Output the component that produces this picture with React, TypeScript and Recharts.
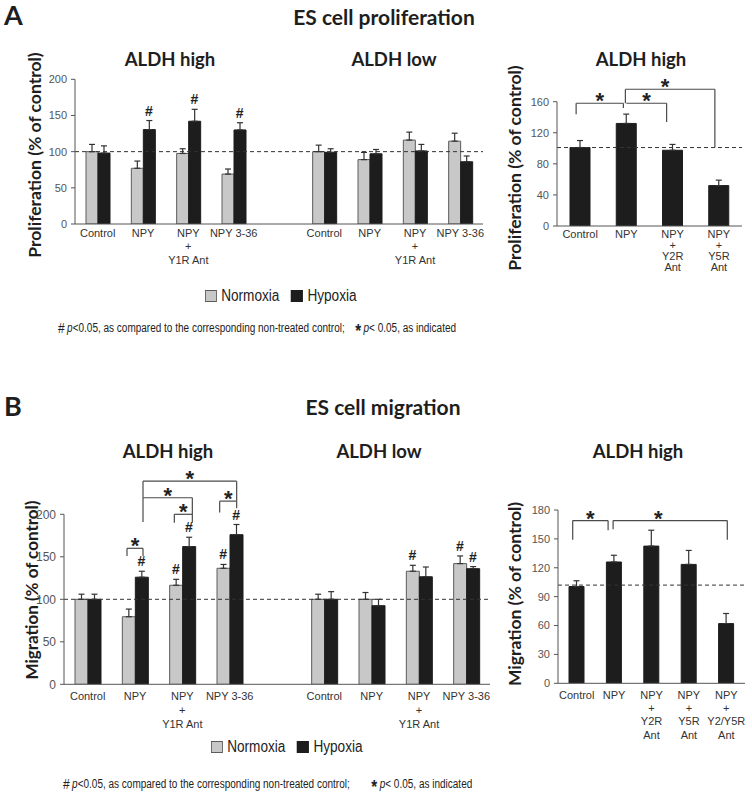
import React from "react";
import { BarChart, Bar, XAxis, YAxis, ReferenceLine, ReferenceDot, ErrorBar } from "recharts";

// shared categories of the two grouped charts (ALDH high | gap | ALDH low)
const groupIds = ["hCtl", "hNpy", "hY1r", "h336", "gap", "lCtl", "lNpy", "lY1r", "l336"];
const groupLabels = ["Control", "NPY", "NPY\n+\nY1R Ant", "NPY 3-36", "", "Control", "NPY", "NPY\n+\nY1R Ant", "NPY 3-36"];

// A - proliferation
const profNormoxia = [100, 77, 97.5, 69, null, 100, 89, 116, 114.5];
const profNormoxiaErr = [10, 10, 6.5, 7, null, 9, 10, 11, 11];
const profHypoxia = [98, 130.5, 142, 130, null, 99, 97, 101, 86];
const profHypoxiaErr = [10, 12.5, 16.5, 10, null, 5, 6, 9, 8];
const profNormoxiaHash: string[] = [];
const profHypoxiaHash = ["hNpy", "hY1r", "h336"];

const profAntIds = ["ctl", "npy", "y2r", "y5r"];
const profAntLabels = ["Control", "NPY", "NPY\n+\nY2R\nAnt", "NPY\n+\nY5R\nAnt"];
const profAnt = [101, 132, 97.5, 52];
const profAntErr = [9, 12, 7.5, 7];

// B - migration
const migNormoxia = [100, 79.5, 116.5, 136.5, null, 100, 100, 133, 142];
const migNormoxiaErr = [6, 9, 7, 4.5, null, 6, 8, 7, 9];
const migHypoxia = [100, 126, 162, 176, null, 100, 92.5, 126.5, 136];
const migHypoxiaErr = [6, 7, 11, 12, null, 9, 7.5, 11.5, 2.5];
const migNormoxiaHash = ["hY1r", "h336", "lY1r", "l336"];
const migHypoxiaHash = ["hNpy", "hY1r", "h336", "l336"];

const migAntIds = ["ctl", "npy", "y2r", "y5r", "y25"];
const migAntLabels = ["Control", "NPY", "NPY\n+\nY2R\nAnt", "NPY\n+\nY5R\nAnt", "NPY\n+\nY2/Y5R\nAnt"];
const migAnt = [100.5, 126, 142.5, 123.5, 62];
const migAntErr = [6, 7, 16.5, 14.5, 10.5];

// significance brackets (y in axis units, dx = px nudge from category centre)
type Bracket = { a: string; adx: number; aLow: number | null; b: string; bdx: number; bLow: number | null; top: number; sdx?: number };

const profAntBrackets: Bracket[] = [
  { a: "ctl", adx: -4, aLow: 144, b: "npy", bdx: -3, bLow: 152, top: 158 },
  { a: "npy", adx: 0, aLow: null, b: "y2r", bdx: -6, bLow: 134, top: 158 },
  { a: "npy", adx: -1, aLow: 158, b: "y5r", bdx: -4, bLow: 101, top: 176, sdx: -5 },
];

const migGroupBrackets: Bracket[] = [
  { a: "hNpy", adx: -8, aLow: 151, b: "hNpy", bdx: 8, bLow: 151, top: 160 },
  { a: "hY1r", adx: -8, aLow: 190, b: "hY1r", bdx: 10, bLow: 190, top: 200 },
  { a: "h336", adx: -10, aLow: 202, b: "h336", bdx: 7, bLow: 207, top: 215.5 },
  { a: "hNpy", adx: 8, aLow: 191, b: "hY1r", bdx: 10, bLow: 200, top: 219.5 },
  { a: "hNpy", adx: 8, aLow: 219.5, b: "h336", bdx: 7, bLow: 215.5, top: 239 },
];

const migAntBrackets: Bracket[] = [
  { a: "ctl", adx: -4, aLow: 149, b: "npy", bdx: -6, bLow: 159, top: 169 },
  { a: "npy", adx: -1, aLow: 160, b: "y25", bdx: 1, bLow: 149, top: 169, sdx: -12 },
];

const GRAY = "#c8c8c8";
const GRAY_EDGE = "#5c5c5c";
const BLACK = "#1d1d1d";
const AXIS = "#555";
const ARIAL = "'Liberation Sans', Arial, sans-serif";
const TITLE = "Lato, 'Open Sans', sans-serif";

const errPair = (e: number | null) => (e == null ? null : [0, e]);

const pairRows = (vn: (number | null)[], en: (number | null)[], vh: (number | null)[], eh: (number | null)[]) =>
  groupIds.map((id, i) => ({ id, n: vn[i], nErr: errPair(en[i]), h: vh[i], hErr: errPair(eh[i]) }));

const singleRows = (ids: string[], v: number[], e: number[]) =>
  ids.map((id, i) => ({ id, h: v[i], hErr: errPair(e[i]) }));

type Spec = {
  box: { x: number; y: number; w: number; h: number };
  plot: { l: number; t: number; r: number; b: number };
  domain: [number, number];
  ticks: number[];
  refY: number;
  tickDy: number;
  tickLh: number;
  yFont: number;
};

type Series = { key: string; errKey: string; fill: string; stroke: string; dx: number; hash: string[] };

function CatTick(props: any) {
  const { x, y, payload, ids, labels, dy, lh } = props;
  const i = ids.indexOf(payload.value);
  const lines = (labels[i] ?? "").split("\n");
  return (
    <g transform={`translate(${x},${y})`}>
      {lines.map((l: string, k: number) => (
        <text key={k} x={0} y={dy + k * lh} textAnchor="middle" fontSize={11} fill="#333" fontFamily={ARIAL}>
          {l}
        </text>
      ))}
    </g>
  );
}

function bracketShapes(list: Bracket[]) {
  const out: React.ReactNode[] = [];
  const stroke = "#4a4a4a";
  list.forEach((b, i) => {
    if (b.aLow != null)
      out.push(
        <ReferenceLine key={`la${i}`} ifOverflow="visible" segment={[{ x: b.a, y: b.aLow }, { x: b.a, y: b.top }]}
          shape={(p: any) => <line x1={p.x1 + b.adx} y1={p.y1} x2={p.x2 + b.adx} y2={p.y2} stroke={stroke} strokeWidth={1.2} />} />
      );
    out.push(
      <ReferenceLine key={`lt${i}`} ifOverflow="visible" segment={[{ x: b.a, y: b.top }, { x: b.b, y: b.top }]}
        shape={(p: any) => (
          <g>
            <line x1={p.x1 + b.adx} y1={p.y1} x2={p.x2 + b.bdx} y2={p.y2} stroke={stroke} strokeWidth={1.2} />
            <text x={(p.x1 + b.adx + p.x2 + b.bdx) / 2 + (b.sdx ?? 0)} y={p.y1 + 5} textAnchor="middle" fontSize={22}
              fontWeight="bold" fontFamily={ARIAL} fill="#222">*</text>
          </g>
        )} />
    );
    if (b.bLow != null)
      out.push(
        <ReferenceLine key={`lb${i}`} ifOverflow="visible" segment={[{ x: b.b, y: b.bLow }, { x: b.b, y: b.top }]}
          shape={(p: any) => <line x1={p.x1 + b.bdx} y1={p.y1} x2={p.x2 + b.bdx} y2={p.y2} stroke={stroke} strokeWidth={1.2} />} />
      );
  });
  return out;
}

function Panel({ spec, rows, ids, labels, series, barSize, brackets }: any) {
  const { box, plot } = spec as Spec;
  const margin = { top: plot.t - box.y, right: box.x + box.w - plot.r, bottom: 0, left: 0 };
  const hashes: React.ReactNode[] = [];
  (series as Series[]).forEach((s) =>
    s.hash.forEach((id) => {
      const r = rows.find((row: any) => row.id === id);
      const top = r[s.key] + r[s.errKey][1];
      hashes.push(
        <ReferenceDot key={`${s.key}-${id}`} x={id} y={top} r={0} ifOverflow="visible"
          shape={(p: any) => (
            <text x={p.cx + s.dx} y={p.cy - 5} textAnchor="middle" fontSize={14} fontWeight="bold" fontFamily={ARIAL} fill="#222">#</text>
          )} />
      );
    })
  );
  return (
    <div style={{ position: "absolute", left: box.x, top: box.y }}>
      <BarChart width={box.w} height={box.h} data={rows} margin={margin} barGap={0} barCategoryGap={0}>
        <XAxis dataKey="id" height={box.y + box.h - plot.b} interval={0} tickSize={0} tickMargin={0}
          axisLine={{ stroke: AXIS }} tickLine={false}
          tick={(p: any) => <CatTick {...p} ids={ids} labels={labels} dy={spec.tickDy} lh={spec.tickLh} />} />
        <YAxis type="number" width={plot.l - box.x} domain={spec.domain} ticks={spec.ticks} allowDataOverflow
          axisLine={{ stroke: AXIS }} tickLine={{ stroke: AXIS }} tickSize={4} tickMargin={4}
          tick={{ fontSize: spec.yFont, fill: "#555", fontFamily: ARIAL }} />
        <ReferenceLine y={spec.refY} stroke="#333" strokeDasharray="4 3" strokeWidth={1} />
        {(series as Series[]).map((s) => (
          <Bar key={s.key} dataKey={s.key} fill={s.fill} stroke={s.stroke} strokeWidth={1} barSize={barSize} isAnimationActive={false}>
            <ErrorBar dataKey={s.errKey} direction="y" width={3} stroke="#333" strokeWidth={1.2} isAnimationActive={false} />
          </Bar>
        ))}
        {hashes}
        {bracketShapes(brackets)}
      </BarChart>
    </div>
  );
}

function Txt({ x, y, size, bold, font, children, anchor = "middle", rotate = false }: any) {
  const tx = anchor === "middle" ? "-50%" : anchor === "end" ? "-100%" : "0";
  return (
    <div style={{
      position: "absolute", left: x, top: y, whiteSpace: "nowrap", lineHeight: 1.15, fontSize: size,
      fontWeight: bold ? 700 : 400, fontFamily: font, color: "#1e1e1e",
      transform: rotate ? "translate(-50%,-50%) rotate(-90deg)" : `translate(${tx},-50%)`,
    }}>{children}</div>
  );
}

// condensed look of the original's narrow sans: Liberation Sans squeezed horizontally
function Legend({ x, y }: { x: number; y: number }) {
  const sq = (fill: string, edge: string) => (
    <span style={{ display: "inline-block", width: 14, height: 12, background: fill, border: `1px solid ${edge}`, marginRight: 5, boxSizing: "border-box" }} />
  );
  return (
    <div style={{ position: "absolute", left: x, top: y, transform: "translateY(-50%) scaleX(0.85)", transformOrigin: "left center",
      display: "flex", alignItems: "center", fontFamily: ARIAL, fontSize: 16, color: "#222", whiteSpace: "nowrap" }}>
      {sq(GRAY, GRAY_EDGE)}<span style={{ marginRight: 14 }}>Normoxia</span>{sq(BLACK, BLACK)}<span>Hypoxia</span>
    </div>
  );
}

function Footnote({ x, y, gap }: { x: number; y: number; gap: number }) {
  return (
    <div style={{ position: "absolute", left: x, top: y, transform: "translateY(-50%) scaleX(0.8)", transformOrigin: "left center",
      fontFamily: ARIAL, fontSize: 12.5, color: "#222", whiteSpace: "nowrap", lineHeight: "20px", display: "flex", alignItems: "center" }}>
      <span style={{ fontSize: 15, marginRight: 3 }}>#</span>
      <span><i>p</i>&lt;0.05, as compared to the corresponding non-treated control;</span>
      <span style={{ display: "inline-block", width: gap }} />
      <b style={{ fontSize: 19, lineHeight: "20px", paddingTop: 7, marginRight: 3 }}>*</b>
      <span><i>p</i>&lt; 0.05, as indicated</span>
    </div>
  );
}

const pairSeries = (nHash: string[], hHash: string[], half: number): Series[] => [
  { key: "n", errKey: "nErr", fill: GRAY, stroke: GRAY_EDGE, dx: -half, hash: nHash },
  { key: "h", errKey: "hErr", fill: BLACK, stroke: BLACK, dx: half, hash: hHash },
];
const blackSeries: Series[] = [{ key: "h", errKey: "hErr", fill: BLACK, stroke: BLACK, dx: 0, hash: [] }];

export default function App() {
  const profGroupSpec: Spec = {
    box: { x: 0, y: 40, w: 490, h: 265 }, plot: { l: 75, t: 79.3, r: 483, b: 224 },
    domain: [0, 200], ticks: [0, 50, 100, 150, 200], refY: 100, tickDy: 13, tickLh: 13.3, yFont: 11,
  };
  const profAntSpec: Spec = {
    box: { x: 470, y: 40, w: 282, h: 250 }, plot: { l: 557, t: 101.7, r: 742, b: 226 },
    domain: [0, 160], ticks: [0, 40, 80, 120, 160], refY: 101, tickDy: 12, tickLh: 11, yFont: 11,
  };
  const migGroupSpec: Spec = {
    box: { x: 0, y: 455, w: 500, h: 285 }, plot: { l: 64, t: 514.3, r: 490, b: 684.3 },
    domain: [0, 200], ticks: [0, 50, 100, 150, 200], refY: 100, tickDy: 16, tickLh: 14, yFont: 12,
  };
  const migAntSpec: Spec = {
    box: { x: 470, y: 480, w: 282, h: 262 }, plot: { l: 558, t: 510, r: 745, b: 683.3 },
    domain: [0, 180], ticks: [0, 30, 60, 90, 120, 150, 180], refY: 102, tickDy: 15.5, tickLh: 13.3, yFont: 11,
  };

  return (
    <div style={{ position: "absolute", left: 0, top: 0, width: 752, height: 792, background: "#fff", overflow: "hidden" }}>
      {/* panel A */}
      <Txt x={4} y={15} size={27} bold font={TITLE} anchor="start">A</Txt>
      <Txt x={384} y={17} size={21} bold font={TITLE}>ES cell proliferation</Txt>
      <Txt x={170} y={60} size={18.5} bold font={TITLE}>ALDH high</Txt>
      <Txt x={394} y={60} size={18.5} bold font={TITLE}>ALDH low</Txt>
      <Txt x={641} y={60} size={18.5} bold font={TITLE}>ALDH high</Txt>
      <Txt x={35} y={155} size={17.5} bold font={TITLE} rotate>Proliferation (% of control)</Txt>
      <Txt x={515} y={168} size={17.5} bold font={TITLE} rotate>Proliferation (% of control)</Txt>

      <Panel spec={profGroupSpec} rows={pairRows(profNormoxia, profNormoxiaErr, profHypoxia, profHypoxiaErr)}
        ids={groupIds} labels={groupLabels} series={pairSeries(profNormoxiaHash, profHypoxiaHash, 6)} barSize={12} brackets={[]} />
      <Panel spec={profAntSpec} rows={singleRows(profAntIds, profAnt, profAntErr)}
        ids={profAntIds} labels={profAntLabels} series={blackSeries} barSize={20} brackets={profAntBrackets} />

      <Legend x={205} y={296} />
      <Footnote x={58} y={327} gap={13} />

      {/* panel B */}
      <Txt x={4} y={406} size={27} bold font={TITLE} anchor="start">B</Txt>
      <Txt x={383} y={407} size={21} bold font={TITLE}>ES cell migration</Txt>
      <Txt x={168} y={452} size={18.5} bold font={TITLE}>ALDH high</Txt>
      <Txt x={379} y={452} size={18.5} bold font={TITLE}>ALDH low</Txt>
      <Txt x={638} y={452} size={18.5} bold font={TITLE}>ALDH high</Txt>
      <Txt x={32} y={590} size={17} bold font={TITLE} rotate>Migration (% of control)</Txt>
      <Txt x={515} y={594} size={17.5} bold font={TITLE} rotate>Migration (% of control)</Txt>

      <Panel spec={migGroupSpec} rows={pairRows(migNormoxia, migNormoxiaErr, migHypoxia, migHypoxiaErr)}
        ids={groupIds} labels={groupLabels} series={pairSeries(migNormoxiaHash, migHypoxiaHash, 6.5)} barSize={13} brackets={migGroupBrackets} />
      <Panel spec={migAntSpec} rows={singleRows(migAntIds, migAnt, migAntErr)}
        ids={migAntIds} labels={migAntLabels} series={blackSeries} barSize={15} brackets={migAntBrackets} />

      <Legend x={211} y={747} />
      <Footnote x={63} y={783} gap={27} />
    </div>
  );
}
